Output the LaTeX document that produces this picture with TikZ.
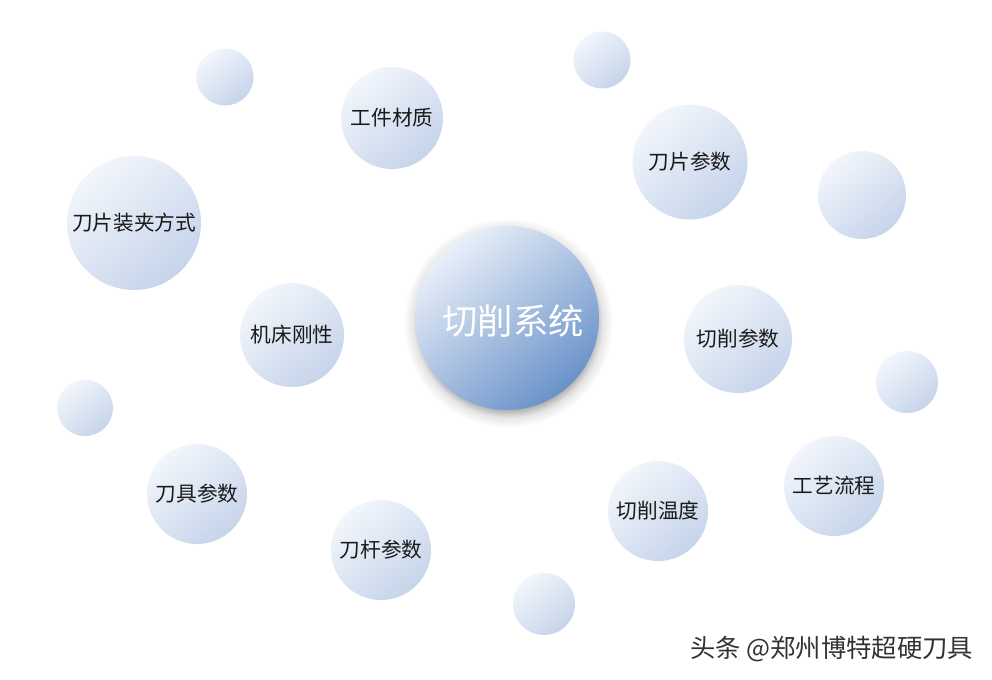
\documentclass[tikz,border=0pt]{standalone}
\usepackage{fontspec}
\setmainfont{Noto Sans CJK SC}
\newfontfamily\cjk{Noto Sans CJK SC}
\definecolor{bubLight}{HTML}{F2F6FC}
\definecolor{bubDark}{HTML}{C6D4EA}
\definecolor{hubLight}{HTML}{EAF0F9}
\definecolor{hubDark}{HTML}{6A92C9}
\definecolor{txt}{HTML}{1A1A1A}
\pgfdeclareradialshading{hubglow}{\pgfpoint{0bp}{0bp}}{color(0bp)=(black!35); color(20.5bp)=(black!32); color(22.5bp)=(black!10); color(25bp)=(white); color(50bp)=(white)}
\tikzset{
  bubble/.style={circle, minimum size=#1, inner sep=0pt, top color=bubLight, bottom color=bubDark, shading angle=40, text=txt, font=\cjk\fontsize{15.5pt}{15.5pt}\selectfont},
  hub/.style={circle, minimum size=#1, inner sep=0pt, top color=hubLight, bottom color=hubDark, shading angle=40},
  hubtext/.style={inner sep=0pt, text=white, font=\cjk\fontsize{26.5pt}{26.5pt}\selectfont},
  glow/.style={circle, minimum size=#1, inner sep=0pt, shading=hubglow},
  wmark/.style={text=black!80, font=\cjk\fontsize{19pt}{19pt}\selectfont, anchor=west, inner sep=0pt}
}
\begin{document}
\begin{tikzpicture}[x=0.75pt,y=-0.75pt]
\fill[white] (0,0) rectangle (992,680);
\useasboundingbox (0,0) rectangle (992,680);
% hub shadow
\node[glow=210*0.75pt] (hubshadow) at (508,323) {};
\node[hub=184*0.75pt] (hub) at (507,318) {};
\node[hubtext] (hublabel) at (513,321) {切削系统};
% labelled bubbles
\node[bubble=102*0.75pt] (gjcz) at (392,118) {工件材质};
\node[bubble=115*0.75pt] (dpcs) at (690,162) {刀片参数};
\node[bubble=134*0.75pt] (dpzj) at (134,223) {刀片装夹方式};
\node[bubble=104*0.75pt] (jcgx) at (292,335) {机床刚性};
\node[bubble=108*0.75pt] (qxcs) at (738,339) {切削参数};
\node[bubble=100*0.75pt] (djcs) at (197,494) {刀具参数};
\node[bubble=100*0.75pt] (dgcs) at (381,550) {刀杆参数};
\node[bubble=100*0.75pt] (qxwd) at (658,511) {切削温度};
\node[bubble=100*0.75pt] (gylc) at (834,486) {工艺流程};
% empty bubbles
\node[bubble=57*0.75pt] (e1) at (602,60) {};
\node[bubble=57*0.75pt] (e2) at (225,77) {};
\node[bubble=88*0.75pt] (e3) at (862,195) {};
\node[bubble=62*0.75pt] (e4) at (907,382) {};
\node[bubble=56*0.75pt] (e5) at (85,408) {};
\node[bubble=62*0.75pt] (e6) at (544,604) {};
% watermark
\node[wmark] (wm) at (690,649) {头条 @郑州博特超硬刀具};
\end{tikzpicture}
\end{document}
